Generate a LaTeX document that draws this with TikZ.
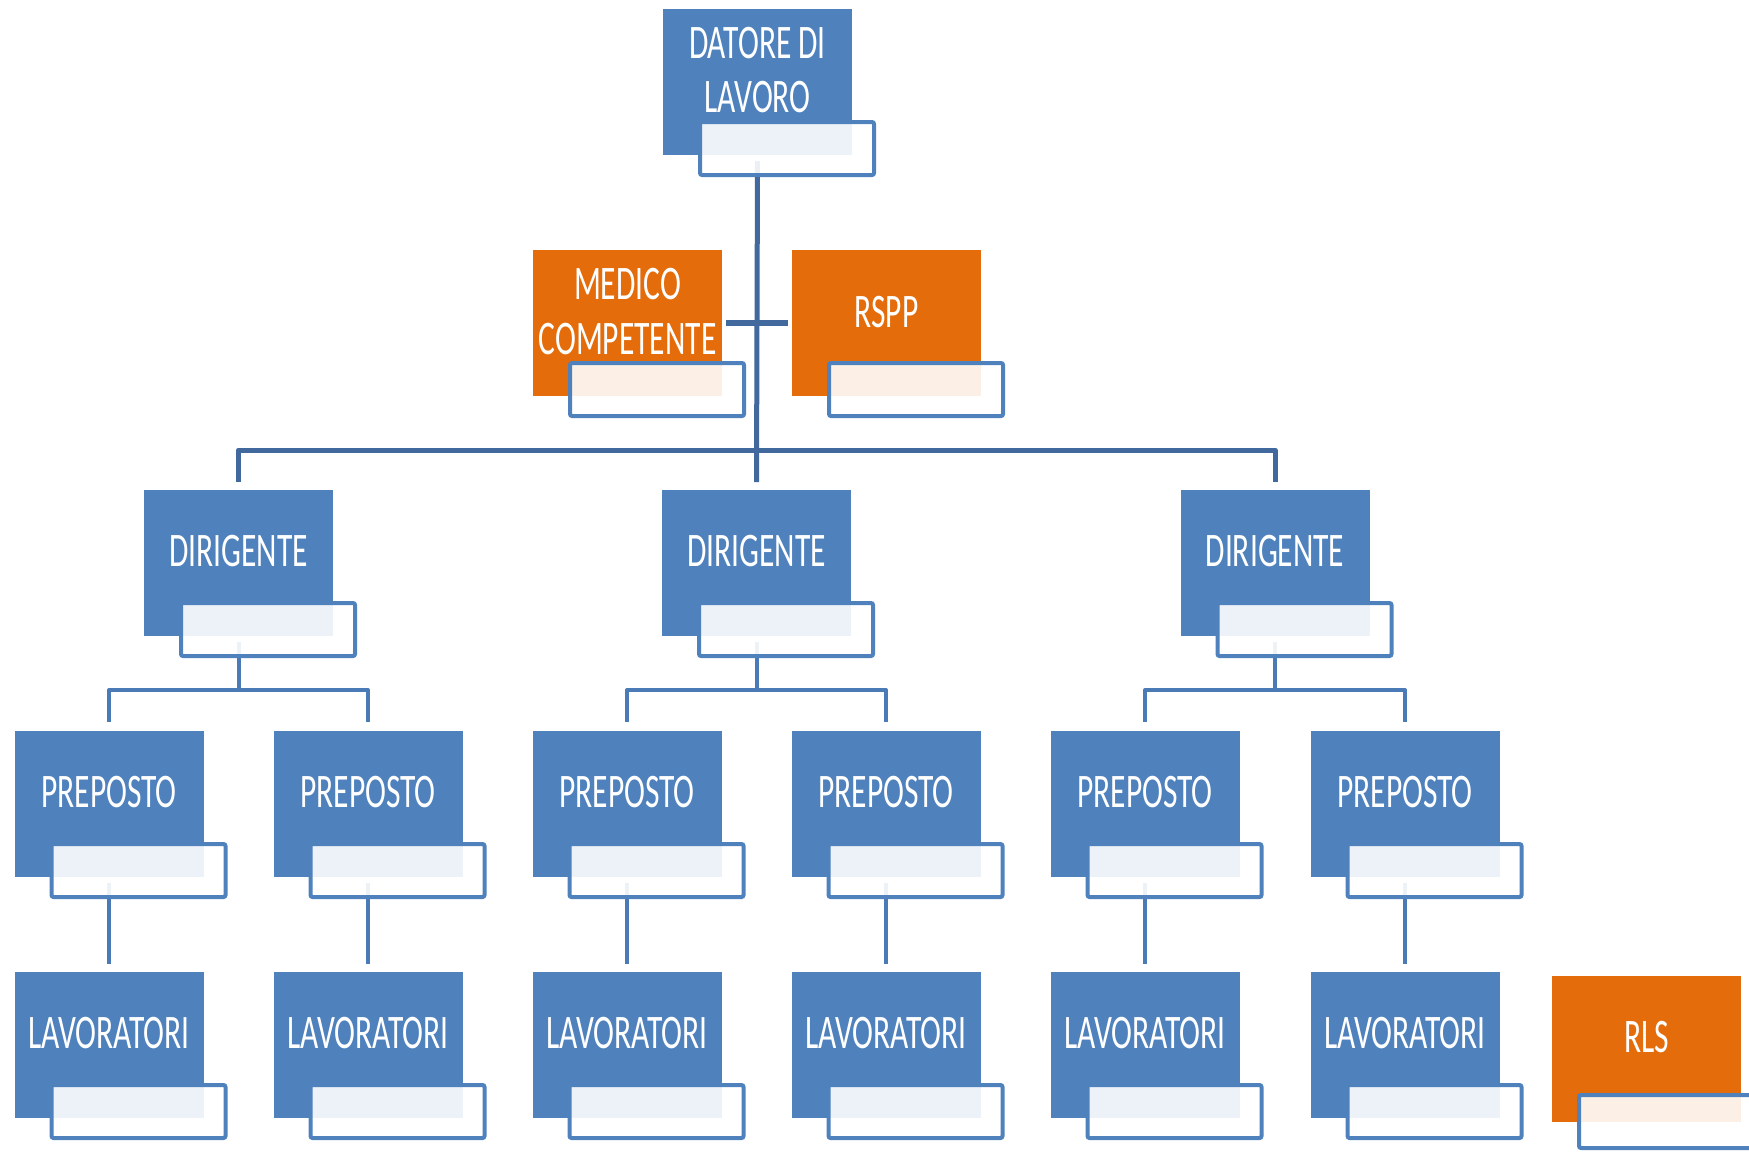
\documentclass[tikz,border=0pt]{standalone}
\usepackage{fontspec}
\setmainfont{Carlito}
\usetikzlibrary{backgrounds}
\definecolor{boxblue}{HTML}{4F81BD}
\definecolor{boxorange}{HTML}{E46C0A}
\definecolor{conndark}{HTML}{41699D}
\definecolor{connlight}{HTML}{4A7BB7}
\newcommand{\vs}[1]{\scalebox{1}[1.53]{#1}}
\tikzset{
  mainbox/.style={rectangle, inner sep=0pt, outer sep=0pt, minimum width=189pt, minimum height=146pt, draw=none},
  bluebox/.style={mainbox, fill=boxblue},
  orangebox/.style={mainbox, fill=boxorange},
  subbox/.style={rectangle, inner sep=0pt, minimum width=174pt, minimum height=53pt, draw=boxblue, line width=4pt, rounded corners=2pt, fill=white, fill opacity=0.9},
  lbl/.style={anchor=base, inner sep=0pt, text=white, font=\fontsize{31.5}{31.5}\selectfont},
  topconn/.style={draw=conndark, line width=5pt, line join=round},
  lowconn/.style={draw=connlight, line width=4pt, line join=round},
}
\newcommand{\obox}[4]{%
  \node[#4, anchor=north west] (#1) at (#2,#3) {};
  \node[subbox, anchor=north west] (#1s) at ([shift={(35,111)}]#1.north west) {};
}
\begin{document}
\begin{tikzpicture}[x=1pt,y=-1pt]
\useasboundingbox (0,0) rectangle (1749,1152);
\clip (0,0) rectangle (1749,1152);
% ---------- boxes ----------
\obox{dat}{663}{9}{bluebox}
\obox{med}{533}{250}{orangebox}
\obox{rspp}{792}{250}{orangebox}
\obox{dir1}{144}{490}{bluebox}
\obox{dir2}{662}{490}{bluebox}
\obox{dir3}{1180.5}{490}{bluebox}
\obox{p1}{14.5}{731}{bluebox}
\obox{p2}{273.5}{731}{bluebox}
\obox{p3}{532.5}{731}{bluebox}
\obox{p4}{791.5}{731}{bluebox}
\obox{p5}{1050.5}{731}{bluebox}
\obox{p6}{1310.5}{731}{bluebox}
\obox{l1}{14.5}{972}{bluebox}
\obox{l2}{273.5}{972}{bluebox}
\obox{l3}{532.5}{972}{bluebox}
\obox{l4}{791.5}{972}{bluebox}
\obox{l5}{1050.5}{972}{bluebox}
\obox{l6}{1310.5}{972}{bluebox}
\node[orangebox, anchor=north west] (rls) at (1552,976) {};
\node[subbox, anchor=north west] (rlss) at ([shift={(25,117)}]rls.north west) {};
% ---------- labels ----------
\node[lbl] (datt1) at ([shift={(0,49)}]dat.north) {\vs{DATORE DI}};
\node[lbl] (datt2) at ([shift={(0,103)}]dat.north) {\vs{LAVORO}};
\node[lbl] (medt1) at ([shift={(0,49)}]med.north) {\vs{MEDICO}};
\node[lbl] (medt2) at ([shift={(0,104)}]med.north) {\vs{COMPETENTE}};
\node[lbl] (rsppt) at ([shift={(0,77)}]rspp.north) {\vs{RSPP}};
\foreach \n in {dir1,dir2,dir3}{
  \node[lbl] (\n t) at ([shift={(0,76)}]\n.north) {\vs{DIRIGENTE}};
}
\foreach \n in {p1,p2,p3,p4,p5,p6}{
  \node[lbl] (\n t) at ([shift={(0,76)}]\n.north) {\vs{PREPOSTO}};
}
\foreach \n in {l1,l2,l3,l4,l5,l6}{
  \node[lbl] (\n t) at ([shift={(0,76)}]\n.north) {\vs{LAVORATORI}};
}
\node[lbl] (rlst) at ([shift={(0,76)}]rls.north) {\vs{RLS}};
% ---------- connectors (behind the boxes) ----------
\begin{pgfonlayer}{background}
\draw[topconn] ([yshift=-6pt]dat.south) -- ([yshift=8pt]dir2.north);
\draw[topconn] ([yshift=8pt]dir1.north) -- ([yshift=40pt]dir1.north) -| ([yshift=8pt]dir3.north);
\draw[topconn, line width=6pt] ([xshift=4pt]med.east) -- ([xshift=-4pt]rspp.west);
\foreach \d/\a/\b in {dir1/p1/p2, dir2/p3/p4, dir3/p5/p6}{
  \draw[lowconn] ([yshift=-6pt]\d.south) -- ([yshift=-54pt]\d.south);
  \draw[lowconn] ([yshift=9pt]\a.north) -- ([yshift=41pt]\a.north) -| ([yshift=9pt]\b.north);
}
\foreach \p/\l in {p1/l1, p2/l2, p3/l3, p4/l4, p5/l5, p6/l6}{
  \draw[lowconn] ([yshift=-6pt]\p.south) -- ([yshift=8pt]\l.north);
}
\end{pgfonlayer}
\end{tikzpicture}
\end{document}
